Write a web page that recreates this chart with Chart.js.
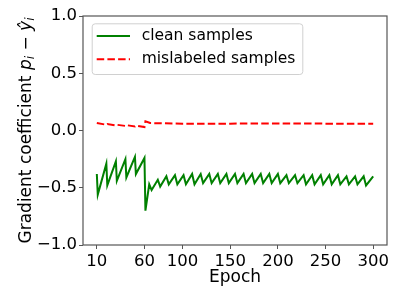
<!DOCTYPE html>
<html>
<head>
<meta charset="utf-8">
<script src="https://cdn.jsdelivr.net/npm/chart.js@4.4.1/dist/chart.umd.min.js"></script>
<style>
  html, body { margin: 0; padding: 0; background: #fff; }
  #wrap { width: 399px; height: 299px; }
</style>
</head>
<body>
<div id="wrap"><canvas id="c" width="399" height="299"></canvas></div>
<script>
// ---- data ----
const cleanEpochs = [10,11,20,21,30,31,40,41,50,51,60,61,65,67.5,74,76.5,83,85.5,
  92,94.5,101,103.5,110,112.5,119,121.5,128,130.5,137,139.5,146,148.5,155,157.5,
  164,166.5,173,175.5,182,184.5,191,193.5,200,202.5,209,211.5,218,220.5,227,229.5,
  236,238.5,245,247.5,254,256.5,263,265.5,272,274.5,281,283.5,290,292.5,300];
const cleanValues = [-0.38,-0.56,-0.29,-0.48,-0.27,-0.44,-0.25,-0.41,-0.23,-0.38,-0.24,-0.70,-0.47,-0.52,-0.43,-0.49,-0.40,-0.47,
  -0.39,-0.47,-0.39,-0.47,-0.38,-0.47,-0.38,-0.46,-0.38,-0.46,-0.38,-0.46,-0.38,-0.46,-0.38,-0.46,
  -0.38,-0.46,-0.38,-0.46,-0.38,-0.46,-0.38,-0.46,-0.38,-0.46,-0.39,-0.46,-0.39,-0.46,-0.39,-0.47,
  -0.39,-0.47,-0.39,-0.47,-0.39,-0.47,-0.39,-0.47,-0.40,-0.47,-0.40,-0.47,-0.40,-0.48,-0.40];
const noisyEpochs = [10,20,21,30,31,40,41,50,51,60,61,66,100,150,200,250,300];
const noisyValues = [0.065,0.05,0.056,0.045,0.05,0.04,0.047,0.035,0.043,0.03,0.08,0.065,0.06,0.06,0.062,0.06,0.058];
const seriesLabels = ["clean samples", "mislabeled samples"];
const xTicks = [10,60,100,150,200,250,300];
const yTicks = [-1.0,-0.5,0.0,0.5,1.0];
const xLabel = "Epoch";
const yLabel = "Gradient coefficient p_i − ŷ_i";

const FONT = "'DejaVu Sans', sans-serif";
const AXIS_COLOR = '#555';

const toPts = (xs, ys) => xs.map((x, i) => ({x: x, y: ys[i]}));

const frameAndText = {
  id: 'frameAndText',
  afterDraw(chart) {
    const {ctx, chartArea: a} = chart;
    ctx.save();
    // frame (all four spines)
    ctx.strokeStyle = AXIS_COLOR;
    ctx.lineWidth = 1.2;
    ctx.strokeRect(a.left, a.top, a.right - a.left, a.bottom - a.top);

    // legend
    const lx = a.left + 8.7, ly = a.top + 7.3, lw = 210.6, lh = 50.7;
    ctx.fillStyle = 'rgba(255,255,255,0.8)';
    ctx.strokeStyle = '#d0d0d0';
    ctx.lineWidth = 1;
    ctx.beginPath();
    if (ctx.roundRect) ctx.roundRect(lx + 0.5, ly + 0.5, lw, lh, 3); else ctx.rect(lx + 0.5, ly + 0.5, lw, lh);
    ctx.fill(); ctx.stroke();
    const rows = [ly + 12.7, ly + 36];
    chart.data.datasets.forEach((ds, i) => {
      const y = rows[i];
      ctx.strokeStyle = ds.borderColor;
      ctx.lineWidth = ds.borderWidth;
      ctx.setLineDash(ds.borderDash || []);
      ctx.beginPath();
      ctx.moveTo(lx + 5, y); ctx.lineTo(lx + 38.3, y);
      ctx.stroke();
      ctx.setLineDash([]);
      ctx.fillStyle = '#000';
      ctx.font = '15.5px ' + FONT;
      ctx.textBaseline = 'middle';
      ctx.textAlign = 'left';
      ctx.fillText(ds.label, lx + 50, y);
    });

    // y-axis title with math italics
    const cy = (a.top + a.bottom) / 2;
    ctx.translate(30.5, cy);
    ctx.rotate(-Math.PI / 2);
    ctx.fillStyle = '#000';
    ctx.textBaseline = 'alphabetic';
    ctx.textAlign = 'left';
    const parts = [
      {t: 'Gradient coefficient ', f: '17px ' + FONT, dy: 0},
      {t: 'p', f: 'italic 17px ' + FONT, dy: 0},
      {t: 'i', f: 'italic 12px ' + FONT, dy: 3.5},
      {t: ' \u2212 ', f: '17px ' + FONT, dy: 0},
      {t: 'y\u0302', f: 'italic 17px ' + FONT, dy: 0},
      {t: 'i', f: 'italic 12px ' + FONT, dy: 3.5}
    ];
    let total = 0;
    parts.forEach(p => { ctx.font = p.f; p.w = ctx.measureText(p.t).width; total += p.w; });
    let x = -total / 2;
    parts.forEach(p => { ctx.font = p.f; ctx.fillText(p.t, x, p.dy); x += p.w; });
    ctx.restore();
  }
};

new Chart(document.getElementById('c'), {
  type: 'line',
  data: {
    datasets: [
      { label: seriesLabels[0], data: toPts(cleanEpochs, cleanValues),
        borderColor: '#008000', borderWidth: 2, pointRadius: 0, tension: 0, fill: false },
      { label: seriesLabels[1], data: toPts(noisyEpochs, noisyValues),
        borderColor: '#ff0000', borderWidth: 2, borderDash: [7.5, 3.2], pointRadius: 0, tension: 0, fill: false }
    ]
  },
  options: {
    responsive: false,
    animation: false,
    devicePixelRatio: 1,
    layout: { padding: { top: 16, right: 12, bottom: 0, left: 0 } },
    plugins: { legend: { display: false }, tooltip: { enabled: false } },
    scales: {
      x: {
        type: 'linear', min: -4.5, max: 314.5,
        afterBuildTicks: s => { s.ticks = xTicks.map(v => ({value: v})); },
        afterFit: s => { s.height = 54; },
        border: { display: false },
        grid: { drawOnChartArea: false, drawTicks: true, tickLength: 4, color: AXIS_COLOR, lineWidth: 1 },
        ticks: { color: '#000', font: { family: FONT, size: 16.5 }, padding: 3, maxRotation: 0, autoSkip: false },
        title: { display: true, text: xLabel, color: '#000', font: { family: FONT, size: 17 }, padding: { top: 0, bottom: 11 } }
      },
      y: {
        type: 'linear', min: -1, max: 1,
        afterBuildTicks: s => { s.ticks = yTicks.map(v => ({value: v})); },
        afterFit: s => { s.width = 83; },
        border: { display: false },
        grid: { drawOnChartArea: false, drawTicks: true, tickLength: 4, color: AXIS_COLOR, lineWidth: 1 },
        ticks: { color: '#000', font: { family: FONT, size: 16.5 }, padding: 2,
                 callback: v => v.toFixed(1).replace('-', '\u2212') },
        title: { display: false, text: yLabel }
      }
    }
  },
  plugins: [frameAndText]
});
</script>
</body>
</html>
